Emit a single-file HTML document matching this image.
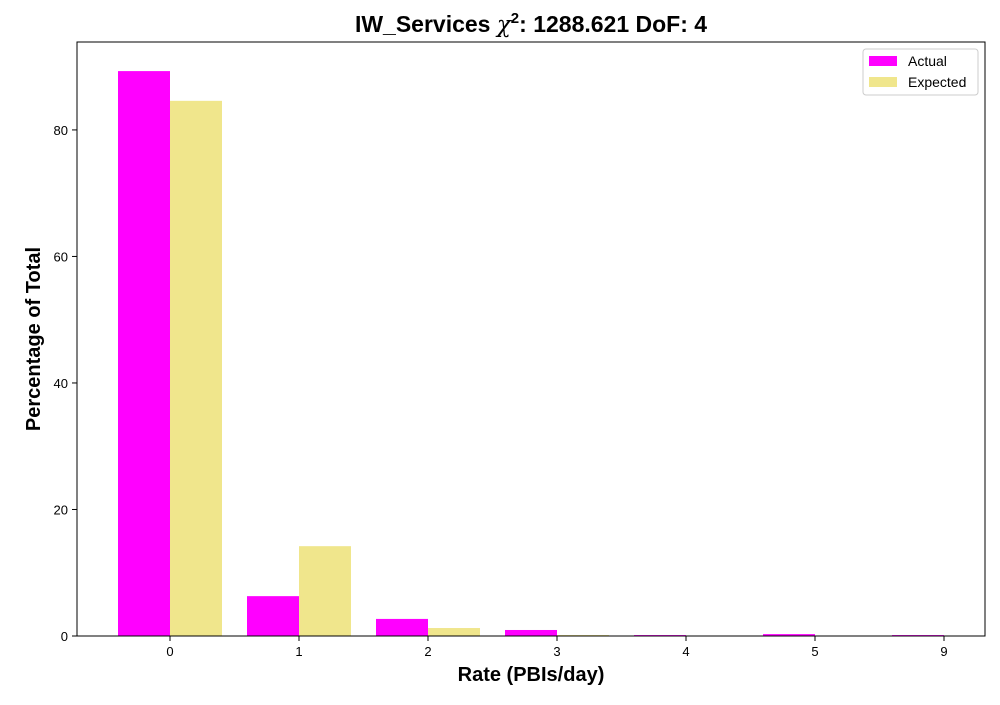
<!DOCTYPE html>
<html><head><meta charset="utf-8"><style>
body{margin:0;background:#fff;font-family:"Liberation Sans","DejaVu Sans",sans-serif;}
</style></head><body>
<svg width="1000" height="700" xmlns="http://www.w3.org/2000/svg">
<rect width="1000" height="700" fill="#fff"/>
<text x="531" y="32" text-anchor="middle" font-size="23" font-weight="bold">IW_Services <tspan font-style="italic" font-weight="normal" font-family="DejaVu Serif, serif">χ</tspan><tspan font-size="15" dy="-9">2</tspan><tspan dy="9">: 1288.621 DoF: 4</tspan></text>
<g id="bars"></g>
<g id="axes"></g>
<rect x="77" y="42" width="908" height="594" fill="none" stroke="#000" stroke-width="1"/>
<text x="531" y="681" text-anchor="middle" font-size="20" font-weight="bold">Rate (PBIs/day)</text>
<text transform="translate(40,339) rotate(-90)" text-anchor="middle" font-size="20" font-weight="bold">Percentage of Total</text>
<g>
<rect x="863" y="49" width="115" height="46" fill="#fff" stroke="#ccc" rx="3"/>
<rect x="869" y="56" width="28" height="10" fill="#ff00ff"/>
<text x="908" y="66" font-size="14">Actual</text>
<rect x="869" y="77" width="28" height="10" fill="#f0e68c"/>
<text x="908" y="87" font-size="14">Expected</text>
</g>
</svg>
<script>
const categories=["0","1","2","3","4","5","9"];
const actual=[89.3,6.3,2.7,0.95,0.15,0.3,0.15];
const expected=[84.6,14.2,1.26,0.15,0.01,0.0,0.0];
const yTicks=[0,20,40,60,80];
const NS="http://www.w3.org/2000/svg";
const x0=77,x1=985,y0=636,yTop=42,yMax=93.9;
const step=129,first=170,bw=52;
function xPos(i){return first+i*step;}
function yPos(v){return y0-(v/yMax)*(y0-yTop);}
const bars=document.getElementById('bars');
const axes=document.getElementById('axes');
function mk(tag,attrs,parent){const e=document.createElementNS(NS,tag);for(const k in attrs)e.setAttribute(k,attrs[k]);parent.appendChild(e);return e;}
categories.forEach((c,i)=>{
  const cx=xPos(i);
  let r=mk('rect',{x:cx-bw,y:yPos(actual[i]),width:bw,height:y0-yPos(actual[i]),fill:'#ff00ff'},bars);
  
  
  let r2=mk('rect',{x:cx,y:yPos(expected[i]),width:bw,height:y0-yPos(expected[i]),fill:'#f0e68c'},bars);
  
  
  let t=mk('line',{x1:cx,x2:cx,y1:y0,y2:y0+5,stroke:'#000'},axes);
  
  
  let l=mk('text',{x:cx,y:y0+20,'text-anchor':'middle','font-size':'13'},axes);
  l.textContent=c;
  
  
});
yTicks.forEach(v=>{
  const y=yPos(v);
  let t=mk('line',{x1:x0-5,x2:x0,y1:y,y2:y,stroke:'#000'},axes);
  
  
  let l=mk('text',{x:x0-9,y:y+5,'text-anchor':'end','font-size':'13'},axes);
  l.textContent=v;
  
  
});
</script>
</body></html>
